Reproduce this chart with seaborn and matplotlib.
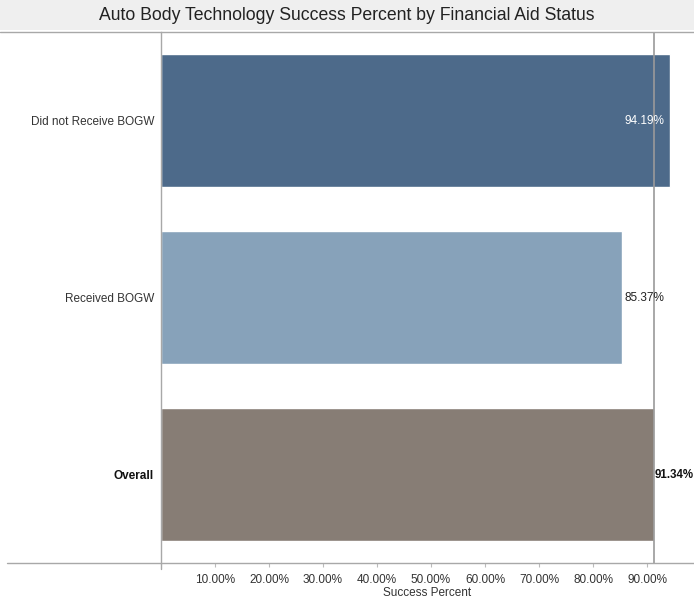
import matplotlib
matplotlib.use("Agg")
import matplotlib.pyplot as plt
from matplotlib.lines import Line2D
from matplotlib.patches import Rectangle
import seaborn as sns
import pandas as pd

# Data
categories = ["Did not Receive BOGW", "Received BOGW", "Overall"]
success_pct = [94.19, 85.37, 91.34]
bar_colors = ["#4d6a8a", "#87a2ba", "#877d75"]
tick_values = [10, 20, 30, 40, 50, 60, 70, 80, 90]
tick_labels = ["10.00%", "20.00%", "30.00%", "40.00%", "50.00%",
               "60.00%", "70.00%", "80.00%", "90.00%"]

sns.set_theme(style="white")
plt.rcParams["font.family"] = ["Liberation Sans", "DejaVu Sans"]

df = pd.DataFrame({"Category": categories, "Success Percent": success_pct})

W, H = 694, 603
fig = plt.figure(figsize=(W / 100, H / 100), dpi=100)
fig.patch.set_facecolor("white")

# title band
fig.patches.append(Rectangle((0, 1 - 30 / H), 1, 30 / H, transform=fig.transFigure,
                             facecolor="#efefef", edgecolor="none", zorder=0))
fig.text(0.5, 1 - 16 / H, "Auto Body Technology Success Percent by Financial Aid Status",
         ha="center", va="center", fontsize=12.7, color="#222222")

ax_left, ax_right = 161 / W, 1.0
ax_bottom, ax_top = 1 - 563 / H, 1 - 32 / H
ax = fig.add_axes([ax_left, ax_bottom, ax_right - ax_left, ax_top - ax_bottom])

sns.barplot(data=df, y="Category", x="Success Percent", hue="Category",
            palette=bar_colors, orient="h", width=0.75, legend=False,
            saturation=1, ax=ax, zorder=2)

ax.set_xlim(0, 98.7)
ax.set_ylim(2.5, -0.5)

# overall reference line
overall = success_pct[categories.index("Overall")]
ax.axvline(overall, color="#9a9a9a", linewidth=1.2, zorder=3)

# value labels
for i, v in enumerate(success_pct):
    label = f"{v:.2f}%"
    if i == 0:
        ax.text(v - 1.0, i, label, ha="right", va="center", fontsize=8.5,
                color="white", zorder=4)
    elif categories[i] == "Overall":
        ax.text(v + 0.15, i, label, ha="left", va="center", fontsize=8.3,
                color="#111111", fontweight="bold", zorder=4)
    else:
        ax.text(v + 0.5, i, label, ha="left", va="center", fontsize=8.5,
                color="#222222", zorder=4)

ax.set_xticks(tick_values)
ax.set_xticklabels(tick_labels, fontsize=8.5, color="#333333")
ax.tick_params(axis="x", length=3, width=0.8, color="#bbbbbb", pad=5, bottom=True)
ax.tick_params(axis="y", length=0, pad=5)
ax.set_yticks(range(len(categories)))
ax.set_yticklabels(categories, fontsize=8.5, color="#333333")
for lbl in ax.get_yticklabels():
    if lbl.get_text() == "Overall":
        lbl.set_fontweight("bold")
        lbl.set_color("#111111")

ax.set_ylabel("")
ax.set_xlabel("Success Percent", fontsize=8.5, color="#333333", labelpad=1)

for s in ["top", "right", "bottom"]:
    ax.spines[s].set_visible(False)
ax.spines["left"].set_color("#a8a8a8")
ax.spines["left"].set_linewidth(1.0)
ax.patch.set_alpha(0)

# frame lines across the figure
fig.lines.append(Line2D([0, 1], [ax_top, ax_top], transform=fig.transFigure,
                        color="#a8a8a8", linewidth=1.0))
fig.lines.append(Line2D([7 / W, 1], [ax_bottom, ax_bottom], transform=fig.transFigure,
                        color="#a8a8a8", linewidth=1.0))
fig.lines.append(Line2D([ax_left, ax_left], [ax_bottom - 6 / H, ax_bottom],
                        transform=fig.transFigure, color="#a8a8a8", linewidth=1.0))

fig.savefig("out.png", dpi=100)
